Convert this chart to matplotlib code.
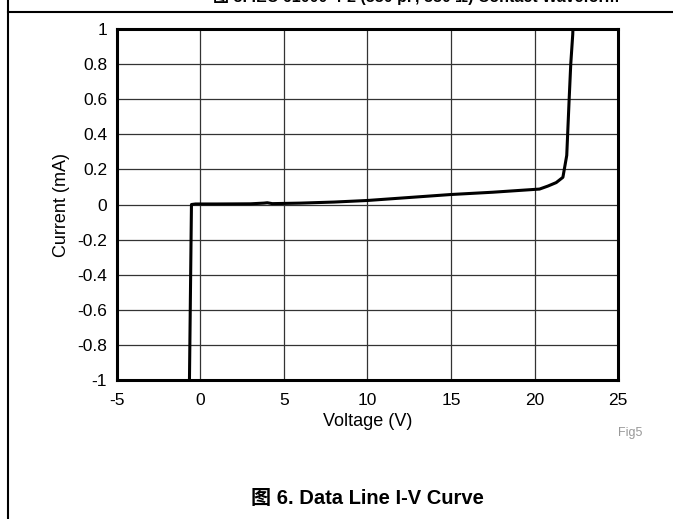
import matplotlib
matplotlib.use("Agg")
import matplotlib.pyplot as plt
from matplotlib.lines import Line2D

plt.rcParams['font.family'] = ['Liberation Sans', 'Noto Sans CJK SC', 'DejaVu Sans']

# I-V curve
voltage = [-0.66, -0.54, -0.3, 1.0, 3.0, 3.8, 4.0, 4.3, 6.0, 8.0, 10.0, 12.5, 15.0, 17.5,
           20.3, 20.8, 21.3, 21.7, 21.93, 22.07, 22.17, 22.29, 22.3]
current = [-1.0, 0.0, 0.003, 0.003, 0.004, 0.008, 0.01, 0.005, 0.008, 0.014, 0.023, 0.04, 0.057,
           0.07, 0.088, 0.105, 0.125, 0.155, 0.28, 0.59, 0.8, 0.97, 1.0]

xticks = [-5, 0, 5, 10, 15, 20, 25]
yticks = [-1, -0.8, -0.6, -0.4, -0.2, 0, 0.2, 0.4, 0.6, 0.8, 1]
ytick_labels = ['-1', '-0.8', '-0.6', '-0.4', '-0.2', '0', '0.2', '0.4', '0.6', '0.8', '1']

fig = plt.figure(figsize=(6.73, 5.19), dpi=100)
ax = fig.add_axes([0.1738, 0.2678, 0.7445, 0.6763])

ax.plot(voltage, current, color='black', lw=2.2, solid_joinstyle='round')
ax.set_xlim(-5, 25)
ax.set_ylim(-1, 1)
ax.set_xticks(xticks)
ax.set_xticklabels([str(t) for t in xticks])
ax.set_yticks(yticks)
ax.set_yticklabels(ytick_labels)
ax.tick_params(length=0, labelsize=12.5)
ax.tick_params(axis='x', pad=9)
ax.tick_params(axis='y', pad=7)
ax.grid(True, color='#333333', lw=0.9)
for s in ax.spines.values():
    s.set_linewidth(2.2)
ax.set_xlabel('Voltage (V)', fontsize=13, labelpad=4)
ax.set_ylabel('Current (mA)', fontsize=13, labelpad=5)

fig.text(630 / 673, 1 - 433 / 519, 'Fig5', color='#999999', fontsize=9, ha='center', va='center')
fig.text(367 / 673, 1 - 498 / 519, '图 6. Data Line I-V Curve', fontsize=14.5, fontweight='bold',
         ha='center', va='center')
# previous caption, cut off by the crop at the top
fig.text(416 / 673, 1 + 3 / 519, '图 5. IEC 61000-4-2 (330 pF, 330 Ω) Contact Waveform', fontsize=11.5,
         fontweight='bold', ha='center', va='center')

# page frame lines
fig.add_artist(Line2D([8 / 673, 8 / 673], [0, 1], color='black', lw=1.5, transform=fig.transFigure))
fig.add_artist(Line2D([8 / 673, 1], [1 - 12 / 519, 1 - 12 / 519], color='black', lw=1.5,
                      transform=fig.transFigure))

fig.savefig('out.png', dpi=100)
